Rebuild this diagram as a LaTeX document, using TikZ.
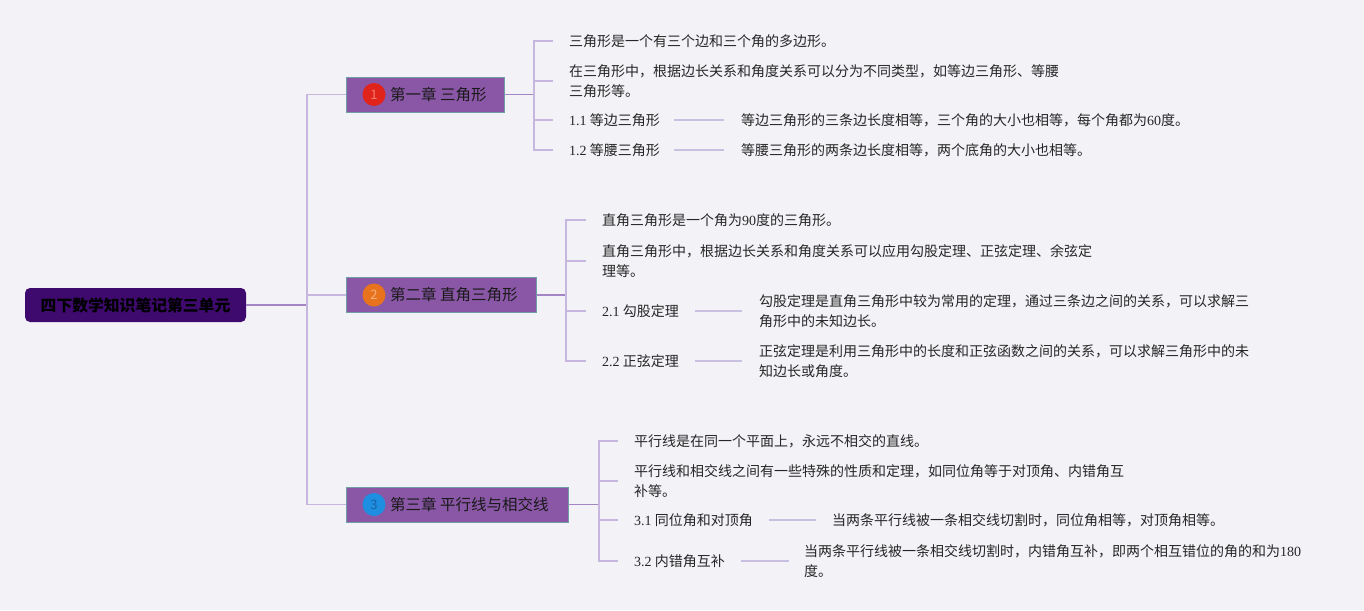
\documentclass[tikz,border=0pt]{standalone}
\usepackage{fontspec}
\setmainfont{Noto Sans CJK SC}
\newfontfamily\lat{Liberation Serif}
\usetikzlibrary{calc}
\definecolor{bg}{HTML}{F3F2F7}
\definecolor{rootfill}{HTML}{3E0A6E}
\definecolor{chapfill}{HTML}{8A57A6}
\definecolor{chapborder}{HTML}{6E9FA6}
\definecolor{darkline}{HTML}{A384C4}
\definecolor{lightline}{HTML}{C7B6DD}
\definecolor{leafcol}{HTML}{C9BFE0}
\definecolor{txt}{HTML}{262626}
\definecolor{dotA}{HTML}{E0231B}
\definecolor{dotB}{HTML}{E8731C}
\definecolor{dotC}{HTML}{1E8FE0}
\definecolor{numA}{HTML}{F27A70}
\definecolor{numB}{HTML}{F5B07E}
\definecolor{numC}{HTML}{1A62A8}
\newcommand{\nm}[1]{{\lat #1}}
\begin{document}
\begin{tikzpicture}[x=1pt,y=-1pt,
  rootbox/.style={fill=rootfill, rounded corners=5pt, minimum width=221pt, minimum height=34pt, inner sep=0pt, font=\fontsize{15.8}{18}\selectfont\bfseries, text=black},
  chapbox/.style={draw=chapborder, line width=1pt, fill=chapfill, minimum height=35pt, anchor=west, inner sep=0pt},
  chaptext/.style={font=\fontsize{15.5}{18}\selectfont, text=black!90, anchor=west, inner sep=0pt},
  numdot/.style={circle, minimum size=23pt, inner sep=0pt, font=\fontsize{13}{13}\selectfont},
  item/.style={anchor=west, inner sep=0pt, align=left, font=\fontsize{14}{20.5}\selectfont, text=txt},
  trunk/.style={draw=darkline, line width=1.5pt},
  twig/.style={draw=lightline, line width=1.5pt},
  leafline/.style={draw=leafcol, line width=1.5pt}]
\fill[bg] (0,0) rectangle (1364,610);
\useasboundingbox (0,0) rectangle (1364,610);

% root
\node[rootbox] (root) at (135.5,305) {四下数学知识笔记第三单元};

% chapters
\node[chapbox, minimum width=158pt] (c1) at (346,94.5) {};
\node[numdot, fill=dotA, text=numA] (n1) at (374,94.5) {1};
\node[chaptext] (t1) at (390,94.5) {第一章 三角形};

\node[chapbox, minimum width=190pt] (c2) at (346,295) {};
\node[numdot, fill=dotB, text=numB] (n2) at (374,295) {2};
\node[chaptext] (t2) at (390,295) {第二章 直角三角形};

\node[chapbox, minimum width=222pt] (c3) at (346,504.5) {};
\node[numdot, fill=dotC, text=numC] (n3) at (374,504.5) {3};
\node[chaptext] (t3) at (390,504.5) {第三章 平行线与相交线};

% chapter 1 items
\node[item] (i11) at (569,41) {三角形是一个有三个边和三个角的多边形。};
\node[item] (i12) at (569,81) {在三角形中，根据边长关系和角度关系可以分为不同类型，如等边三角形、等腰\\三角形等。};
\node[item] (i13) at (569,120) {\nm{1.1} 等边三角形};
\node[item] (i14) at (569,150) {\nm{1.2} 等腰三角形};
\node[item] (d13) at (741,120) {等边三角形的三条边长度相等，三个角的大小也相等，每个角都为\nm{60}度。};
\node[item] (d14) at (741,150) {等腰三角形的两条边长度相等，两个底角的大小也相等。};

% chapter 2 items
\node[item] (i21) at (602,220) {直角三角形是一个角为\nm{90}度的三角形。};
\node[item] (i22) at (602,261) {直角三角形中，根据边长关系和角度关系可以应用勾股定理、正弦定理、余弦定\\理等。};
\node[item] (i23) at (602,311) {\nm{2.1} 勾股定理};
\node[item] (i24) at (602,361) {\nm{2.2} 正弦定理};
\node[item] (d23) at (759,311) {勾股定理是直角三角形中较为常用的定理，通过三条边之间的关系，可以求解三\\角形中的未知边长。};
\node[item] (d24) at (759,361) {正弦定理是利用三角形中的长度和正弦函数之间的关系，可以求解三角形中的未\\知边长或角度。};

% chapter 3 items
\node[item] (i31) at (634,441) {平行线是在同一个平面上，永远不相交的直线。};
\node[item] (i32) at (634,481) {平行线和相交线之间有一些特殊的性质和定理，如同位角等于对顶角、内错角互\\补等。};
\node[item] (i33) at (634,520) {\nm{3.1} 同位角和对顶角};
\node[item] (i34) at (634,561) {\nm{3.2} 内错角互补};
\node[item] (d33) at (832,520) {当两条平行线被一条相交线切割时，同位角相等，对顶角相等。};
\node[item] (d34) at (804,561) {当两条平行线被一条相交线切割时，内错角互补，即两个相互错位的角的和为\nm{180}\\度。};

% root connectors
\draw[trunk] (root.east) -- ++(61,0) coordinate (rj);
\draw[twig] (rj) |- (c1.west);
\draw[twig] (rj) |- (c2.west);
\draw[twig] (rj) |- (c3.west);

% chapter 1 connectors
\draw[trunk] (c1.east) -- ++(29,0) coordinate (j1);
\foreach \k in {i11,i12,i13,i14} \draw[twig, shorten >=16pt] (j1) |- (\k.west);
\draw[leafline] ([xshift=14pt]i13.east) -- ([xshift=-17pt]d13.west);
\draw[leafline] ([xshift=14pt]i14.east) -- ([xshift=-17pt]d14.west);

% chapter 2 connectors
\draw[trunk] (c2.east) -- ++(29,0) coordinate (j2);
\foreach \k in {i21,i22,i23,i24} \draw[twig, shorten >=16pt] (j2) |- (\k.west);
\draw[leafline] ([xshift=16pt]i23.east) -- ([xshift=-17pt]d23.west);
\draw[leafline] ([xshift=16pt]i24.east) -- ([xshift=-17pt]d24.west);

% chapter 3 connectors
\draw[trunk] (c3.east) -- ++(30,0) coordinate (j3);
\foreach \k in {i31,i32,i33,i34} \draw[twig, shorten >=16pt] (j3) |- (\k.west);
\draw[leafline] ([xshift=16pt]i33.east) -- ([xshift=-16pt]d33.west);
\draw[leafline] ([xshift=16pt]i34.east) -- ([xshift=-15pt]d34.west);
\end{tikzpicture}
\end{document}
